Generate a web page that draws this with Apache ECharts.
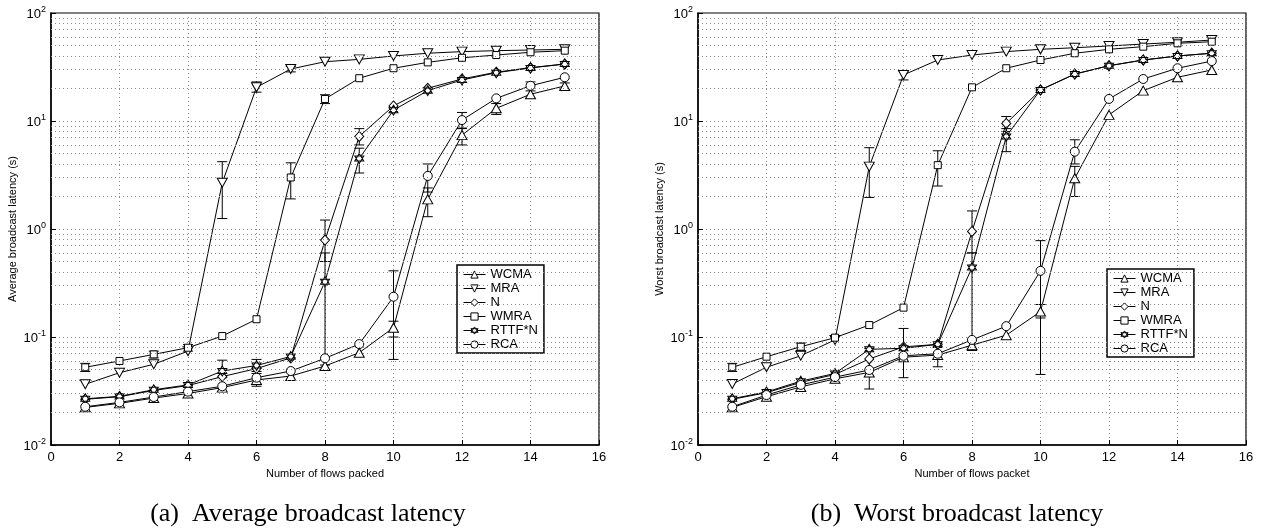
<!DOCTYPE html>
<html>
<head>
<meta charset="utf-8">
<script src="https://cdn.jsdelivr.net/npm/echarts@6/dist/echarts.min.js"></script>
<style>
html,body{margin:0;padding:0;background:#fff;}
#main{width:1274px;height:528px;}
</style>
</head>
<body>
<div id="main"></div>
<script>
// ---- data ----
const flows = [1,2,3,4,5,6,7,8,9,10,11,12,13,14,15];
const seriesNames = ['WCMA','MRA','N','WMRA','RTTF*N','RCA'];
const xTicks = [0,2,4,6,8,10,12,14,16];

// (a) Average broadcast latency (s)
const avgWCMA = [0.0223,0.0243,0.0272,0.0300,0.0340,0.0400,0.0435,0.0539,0.0716,0.122,1.88,7.4,13.1,17.7,21.1];
const avgMRA  = [0.0365,0.0467,0.0559,0.074,2.68,20.5,30.3,35.4,37.2,40.0,42.4,43.9,44.8,45.4,46.1];
const avgN    = [0.0265,0.0280,0.0320,0.0355,0.0430,0.0510,0.0640,0.79,7.2,13.8,20.1,24.5,28.3,31.2,33.7];
const avgWMRA = [0.0524,0.060,0.069,0.0796,0.102,0.146,3.0,16.0,24.9,30.8,34.9,38.5,40.8,43.3,44.8];
const avgRTTF = [0.0268,0.0282,0.0325,0.0360,0.0484,0.0545,0.0660,0.325,4.5,12.6,19.1,24.0,28.0,31.0,33.7];
const avgRCA  = [0.0226,0.0248,0.0278,0.0312,0.0350,0.0420,0.0484,0.0635,0.086,0.236,3.1,10.2,16.2,21.2,25.4];

// (b) Worst broadcast latency (s)
const worstWCMA = [0.0223,0.0280,0.0345,0.0410,0.0470,0.0650,0.0680,0.084,0.104,0.172,2.95,11.4,19.1,25.4,29.7];
const worstMRA  = [0.0367,0.0524,0.067,0.094,3.78,26.7,36.7,40.8,43.9,46.1,47.7,49.5,51.6,53.6,56.2];
const worstN    = [0.0265,0.0305,0.0380,0.0450,0.0626,0.081,0.0855,0.95,9.5,19.4,27.2,32.5,36.7,40.0,42.4];
const worstWMRA = [0.0524,0.0657,0.0813,0.0986,0.129,0.187,3.9,20.5,30.8,36.7,42.4,46.1,48.8,52.4,54.2];
const worstRTTF = [0.0268,0.0310,0.0390,0.0460,0.0769,0.0786,0.0855,0.44,7.2,19.4,27.2,32.5,36.7,40.0,42.4];
const worstRCA  = [0.0226,0.0290,0.0360,0.0425,0.0495,0.0670,0.0700,0.094,0.126,0.41,5.2,16.0,24.5,30.8,35.9];

// error bars [flows, low, high]
const avgErrors = [
  [5,1.25,4.2],[6,18.5,23],[7,28.5,32],
  [7,1.9,4.1],[8,14.5,17.5],[1,0.048,0.057],[3,0.064,0.074],[4,0.074,0.085],
  [8,0.5,1.21],[9,6.0,8.5],
  [8,0.055,0.6],[9,3.3,5.6],[5,0.042,0.061],[6,0.048,0.062],
  [10,0.062,0.41],[11,2.2,4.0],[12,8.5,12],[14,19,23],
  [6,0.035,0.046],[10,0.1,0.14],[11,1.3,2.4],[12,6.0,8.6],[13,11.5,14.5],[15,19.5,22.5]
];
const worstErrors = [
  [5,1.96,5.66],[6,24,29],
  [7,2.5,5.3],[1,0.048,0.057],[3,0.075,0.088],
  [8,0.6,1.47],[9,8,11],
  [8,0.075,0.6],[9,5.2,8.5],
  [10,0.045,0.78],[11,4.0,6.7],
  [10,0.15,0.2],[11,2.0,3.8],
  [5,0.033,0.078],[6,0.042,0.12],[7,0.053,0.08],[8,0.075,0.095],[3,0.032,0.037]
];

const minorLevels = [];
[0.01,0.1,1,10].forEach(d => { for (let k = 2; k <= 9; k++) minorLevels.push(+(d*k).toPrecision(3)); });

// ---- style ----
const symbols = {
  'WCMA':   {symbol:'triangle', size:[10,9]},
  'MRA':    {symbol:'path://M0,0 L10,0 L5,8.66 Z', size:[10,9]},
  'N':      {symbol:'path://M5,0 L10,5 L5,10 L0,5 Z', size:[9,10]},
  'WMRA':   {symbol:'rect', size:[7,7]},
  'RTTF*N': {symbol:'path://M5,0 L9.33,7.5 L0.67,7.5 Z M5,10 L0.67,2.5 L9.33,2.5 Z', size:[9,10]},
  'RCA':    {symbol:'circle', size:[9,9]}
};
const avgData = {'WCMA':avgWCMA,'MRA':avgMRA,'N':avgN,'WMRA':avgWMRA,'RTTF*N':avgRTTF,'RCA':avgRCA};
const worstData = {'WCMA':worstWCMA,'MRA':worstMRA,'N':worstN,'WMRA':worstWMRA,'RTTF*N':worstRTTF,'RCA':worstRCA};

const FONT = 'Liberation Sans, Arial, sans-serif';
const gridLine = {show:true, lineStyle:{color:'#8a8a8a', type:[1,3], width:1}};

function makeXAxis(idx, name){
  return {
    type:'value', gridIndex:idx, min:0, max:16, interval:2,
    name:name, nameLocation:'middle', nameGap:20,
    nameTextStyle:{fontFamily:FONT, fontSize:11, color:'#000'},
    axisLine:{show:true, lineStyle:{color:'#000', width:1.5}},
    axisTick:{show:true, inside:true, length:5, lineStyle:{color:'#000'}},
    axisLabel:{fontFamily:FONT, fontSize:13, color:'#000', margin:6},
    splitLine:gridLine
  };
}
function makeYAxis(idx, name){
  return {
    type:'log', logBase:10, gridIndex:idx, min:0.01, max:100,
    name:name, nameLocation:'middle', nameGap:33,
    nameTextStyle:{fontFamily:FONT, fontSize:11, color:'#000'},
    axisLine:{show:true, lineStyle:{color:'#000', width:1.5}},
    axisTick:{show:true, inside:true, length:5, lineStyle:{color:'#000'}},
    axisLabel:{
      margin:5, fontFamily:FONT, color:'#000',
      formatter: v => '{b|10}{s|' + Math.round(Math.log10(v)) + '}',
      rich:{
        b:{fontFamily:FONT, fontSize:13, color:'#000', lineHeight:16, verticalAlign:'bottom'},
        s:{fontFamily:FONT, fontSize:9, color:'#000', verticalAlign:'top', padding:[0,0,6,0]}
      }
    },
    splitLine:gridLine
  };
}

const series = [];
[[avgData,0,avgErrors],[worstData,1,worstErrors]].forEach(([dataset, idx, errs]) => {
  // minor horizontal grid lines
  series.push({
    type:'line', xAxisIndex:idx, yAxisIndex:idx, data:[], silent:true,
    markLine:{silent:true, symbol:'none', label:{show:false},
      lineStyle:{color:'#8a8a8a', type:[1,3], width:1},
      data: minorLevels.map(v => ({yAxis:v}))}
  });
  series.push({
    type:'custom', name:'err'+idx, xAxisIndex:idx, yAxisIndex:idx, silent:true, z:3,
    data: errs,
    encode:{x:0, y:[1,2]},
    renderItem:(params, api) => {
      const x = api.value(0);
      const lo = api.coord([x, api.value(1)]);
      const hi = api.coord([x, api.value(2)]);
      const w = 5;
      const st = {stroke:'#000', lineWidth:1};
      return {type:'group', children:[
        {type:'line', shape:{x1:lo[0],y1:lo[1],x2:hi[0],y2:hi[1]}, style:st},
        {type:'line', shape:{x1:lo[0]-w,y1:lo[1],x2:lo[0]+w,y2:lo[1]}, style:st},
        {type:'line', shape:{x1:hi[0]-w,y1:hi[1],x2:hi[0]+w,y2:hi[1]}, style:st}
      ]};
    }
  });
  seriesNames.forEach(name => {
    series.push({
      type:'line', name:name, xAxisIndex:idx, yAxisIndex:idx, z:4,
      data: flows.map((f,i) => [f, dataset[name][i]]),
      symbol: symbols[name].symbol, symbolSize: symbols[name].size,
      showAllSymbol:true,
      lineStyle:{color:'#000', width:1},
      itemStyle:{color:'#fff', borderColor:'#000', borderWidth:1},
      emphasis:{disabled:true},
      animation:false
    });
  });
});

const legendBase = {
  orient:'vertical', data:seriesNames, itemWidth:22, itemHeight:9, itemGap:1,
  padding:[3,6,2,6], borderColor:'#000', borderWidth:1.5, backgroundColor:'#fff',
  itemStyle:{color:'#fff', borderColor:'#000', borderWidth:1},
  lineStyle:{color:'#000', width:1},
  textStyle:{fontFamily:FONT, fontSize:13, color:'#000', lineHeight:12}, selectedMode:false
};

const CAP = {fontFamily:'Liberation Serif, Times New Roman, serif', fontSize:26, fontWeight:'normal', color:'#000'};
const option = {
  animation:false,
  backgroundColor:'#fff',
  grid:[
    {left:51, right:675, top:13, bottom:83, show:true, borderColor:'#000', borderWidth:1.2},
    {left:698, right:28, top:13, bottom:83, show:true, borderColor:'#000', borderWidth:1.2}
  ],
  xAxis:[makeXAxis(0,'Number of flows packed'), makeXAxis(1,'Number of flows packet')],
  yAxis:[makeYAxis(0,'Average broadcast latency (s)'), makeYAxis(1,'Worst broadcast latency (s)')],
  legend:[
    Object.assign({left:457, top:265}, legendBase),
    Object.assign({left:1107, top:269}, legendBase)
  ],
  title:[
    {text:'(a)  Average broadcast latency', left:303, top:496, textAlign:'center', textStyle:CAP},
    {text:'(b)  Worst broadcast latency', left:952, top:496, textAlign:'center', textStyle:CAP}
  ],
  series:series
};

const chart = echarts.init(document.getElementById('main'), null, {renderer:'canvas'});
chart.setOption(option);
</script>
</body>
</html>
